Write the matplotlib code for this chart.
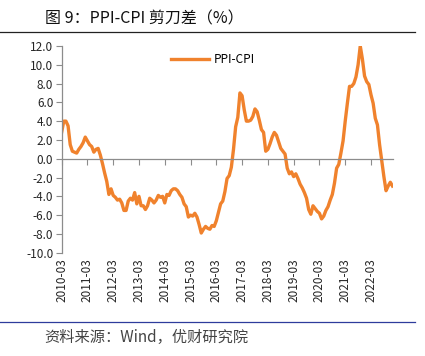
import numpy as np
import matplotlib
matplotlib.use('Agg')
import matplotlib.pyplot as plt
import matplotlib.transforms as mtransforms

plt.rcParams['font.family'] = ['Noto Sans CJK SC', 'DejaVu Sans']

# PPI-CPI spread, monthly, 2010-03 .. 2023-01
spread_2010 = [2.8, 4.0, 4.0, 3.5, 1.5, 0.8, 0.7, 0.6, 1.0, 1.3]
spread_2011 = [1.7, 2.3, 1.9, 1.5, 1.3, 0.7, 1.0, 1.1, 0.4, -0.5, -1.5, -2.4]
spread_2012 = [-3.8, -3.2, -3.9, -4.1, -4.4, -4.3, -4.7, -5.5, -5.5, -4.5, -4.2, -4.4]
spread_2013 = [-3.6, -4.8, -4.0, -5.0, -5.0, -5.4, -5.0, -4.2, -4.4, -4.7, -4.4, -3.9]
spread_2014 = [-4.1, -4.0, -4.7, -3.8, -3.9, -3.4, -3.2, -3.2, -3.4, -3.8, -4.1, -4.8]
spread_2015 = [-5.1, -6.2, -6.0, -6.1, -5.8, -6.2, -7.0, -7.9, -7.5, -7.2, -7.4, -7.5]
spread_2016 = [-7.1, -7.2, -6.6, -5.7, -4.8, -4.5, -3.5, -2.1, -1.8, -0.9, 1.0, 3.4]
spread_2017 = [4.4, 7.0, 6.7, 5.2, 4.0, 4.0, 4.1, 4.5, 5.3, 5.0, 4.1, 3.1]
spread_2018 = [2.8, 0.8, 1.0, 1.6, 2.3, 2.8, 2.5, 1.8, 1.1, 0.8, 0.5, -1.0]
spread_2019 = [-1.6, -1.4, -1.9, -1.6, -2.1, -2.7, -3.1, -3.6, -4.2, -5.4, -5.9, -5.0]
spread_2020 = [-5.3, -5.6, -5.8, -6.4, -6.1, -5.5, -5.1, -4.4, -3.8, -2.6, -1.0, -0.6]
spread_2021 = [0.6, 1.9, 4.0, 5.9, 7.7, 7.7, 8.0, 8.7, 10.0, 12.0, 10.6, 8.8]
spread_2022 = [8.2, 7.9, 6.8, 5.9, 4.3, 3.6, 1.5, -0.2, -1.9, -3.4, -2.9, -2.5]
spread_2023 = [-2.9]

spread = (spread_2010 + spread_2011 + spread_2012 + spread_2013 + spread_2014
          + spread_2015 + spread_2016 + spread_2017 + spread_2018 + spread_2019
          + spread_2020 + spread_2021 + spread_2022 + spread_2023)

tick_labels = ['2010-03', '2011-03', '2012-03', '2013-03', '2014-03', '2015-03', '2016-03',
               '2017-03', '2018-03', '2019-03', '2020-03', '2021-03', '2022-03']
y_ticks = [-10, -8, -6, -4, -2, 0, 2, 4, 6, 8, 10, 12]

x = np.arange(len(spread))
tick_pos = np.arange(len(tick_labels)) * 12

fig = plt.figure(figsize=(4.25, 3.56), dpi=100)
ax = fig.add_axes([0.145, 0.290, 0.780, 0.581])

ax.plot(x, spread, color='#F0822D', lw=2.4, label='PPI-CPI', solid_joinstyle='round')

ax.set_xlim(0, 154.3)
ax.set_ylim(-10, 12)
ax.set_yticks(y_ticks)
ax.set_yticklabels([f'{v:.1f}' for v in y_ticks])

for s in ['top', 'right']:
    ax.spines[s].set_visible(False)
ax.spines['left'].set_color('#8c8c8c')
ax.spines['bottom'].set_color('#8c8c8c')
ax.spines['bottom'].set_position(('data', 0))
ax.spines['left'].set_linewidth(0.9)
ax.spines['bottom'].set_linewidth(0.9)

ax.set_xticks(tick_pos)
ax.tick_params(axis='x', direction='out', length=4, color='#8c8c8c', labelbottom=False)
ax.tick_params(axis='y', direction='out', length=4, color='#8c8c8c', labelsize=8.5,
               labelcolor='#262626', pad=2)

# year labels sit below the plot, not on the zero line
trans = mtransforms.blended_transform_factory(ax.transData, ax.transAxes)
for pos, lab in zip(tick_pos, tick_labels):
    ax.text(pos, -0.025, lab, transform=trans, rotation=90, ha='center', va='top',
            fontsize=8.5, color='#262626')

ax.legend(loc='upper left', bbox_to_anchor=(0.31, 1.0), frameon=False, fontsize=8.5,
          handlelength=3.2, handletextpad=0.4, borderaxespad=0.2)

fig.text(0.105, 0.948, '图 9：PPI-CPI 剪刀差（%）', fontsize=11.5, color='#111111',
         ha='left', va='center')
fig.add_artist(plt.Line2D([0, 0.977], [0.910, 0.910], color='#222222', lw=0.9))
fig.add_artist(plt.Line2D([0, 0.977], [0.096, 0.096], color='#2e3c9c', lw=0.9))
fig.text(0.105, 0.053, '资料来源：Wind，优财研究院', fontsize=11, color='#444444',
         ha='left', va='center')

fig.savefig('out.png', dpi=100)
